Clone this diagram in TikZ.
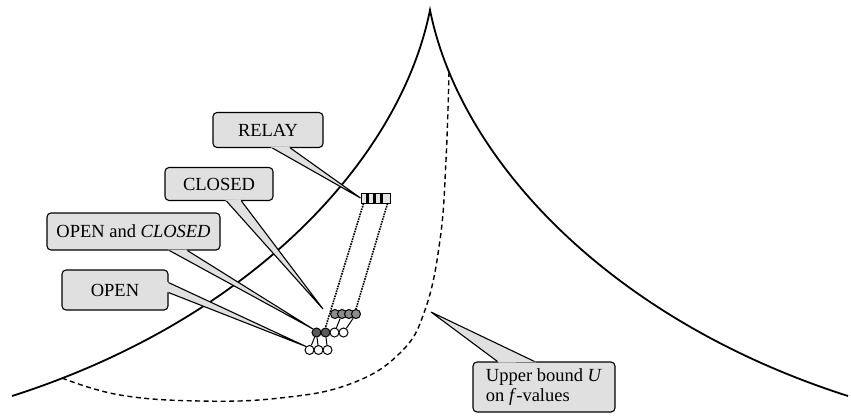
\documentclass[tikz,border=0pt]{standalone}
\usepackage{fontspec}
\setmainfont{Liberation Serif}
\usetikzlibrary{calc}

% tail of a callout: two base points on the box edge, then the tip
\newcommand{\calltail}[3]{%
  \fill[callfill] ($(#1)!-2pt!(#3)$) -- (#3) -- ($(#2)!-2pt!(#3)$) -- cycle;
  \draw[tailline] (#1) -- (#3) -- (#2);}

\begin{document}
\begin{tikzpicture}[
    x=1pt, y=-1pt, font=\fontsize{18.5}{20.5}\selectfont, line join=miter,
    callout/.style={rectangle, rounded corners=4pt, draw, fill=black!12,
      line width=1.1pt, inner sep=0pt, align=center},
    callfill/.style={fill=black!12},
    tailline/.style={line width=1.1pt},
    bound/.style={line width=1.8pt},
    ubound/.style={line width=1.4pt, dash pattern=on 5pt off 3.5pt},
    opencirc/.style={circle, draw, fill=white, minimum size=9pt, inner sep=0pt, line width=1pt},
    closedcirc/.style={opencirc, fill=black!45},
    bothcirc/.style={opencirc, fill=black!65},
    link/.style={line width=1pt},
    relayed/.style={line width=1.6pt, densely dotted}]
  \useasboundingbox (0,0) rectangle (851,416);
  % f-value surface and the bound U
  \draw[bound] (12,396) .. controls (250,320) and (400,160) .. (430,10)
    .. controls (460,160) and (610,320) .. (848,396);
  \draw[ubound] plot[smooth, tension=0.7] coordinates {(62,378) (120,395) (200,401)
    (280,398) (350,384) (400,353) (425,310) (440,240) (446,160) (449,72)};
  % search frontier
  \node[closedcirc] (t1) at (335,314) {};
  \node[closedcirc] (t2) at (342,314) {};
  \node[closedcirc] (t3) at (349,314) {};
  \node[closedcirc] (t4) at (356,314) {};
  \node[bothcirc] (m1) at (316.5,332.5) {};
  \node[bothcirc] (m2) at (325.5,332.5) {};
  \node[opencirc] (m3) at (334.5,332.5) {};
  \node[opencirc] (m4) at (343.5,332.5) {};
  \node[opencirc] (b1) at (309.5,350) {};
  \node[opencirc] (b2) at (318.5,350) {};
  \node[opencirc] (b3) at (327.5,350) {};
  \draw[link] (m1) -- (b1);
  \draw[link] (m1) -- (b2);
  \draw[link] (m2) -- (b3);
  \draw[link] (t2) -- (m3);
  \draw[link] (t4) -- (m4);
  % relay layer
  \node[draw, fill=black!10, line width=1pt, minimum width=29pt, minimum height=10pt,
    inner sep=0pt] (relaybox) at (375.5,198) {};
  \foreach \dx in {-8,-1,6}
    \fill ([xshift=\dx pt - 1.6pt, yshift=-0.5pt]relaybox.north)
      rectangle ([xshift=\dx pt + 1.6pt, yshift=0.5pt]relaybox.south);
  \draw[relayed] ([xshift=3pt]relaybox.south west) -- (m2.north);
  \draw[relayed] ([xshift=-3pt]relaybox.south east) -- (t4.north);
  % callouts
  \node[callout, minimum width=110pt, minimum height=35pt] (relay) at (268,130) {RELAY};
  \node[callout, minimum width=108pt, minimum height=33pt] (closed) at (219,184) {CLOSED};
  \node[callout, minimum width=173pt, minimum height=37pt] (both) at (133.5,231.5) {OPEN and \textit{CLOSED}};
  \node[callout, minimum width=106pt, minimum height=40pt] (open) at (115,290) {OPEN};
  \node[callout, minimum width=142pt, minimum height=50pt, align=left] (ubnd) at (544,387)
    {Upper bound \textit{U}\\on \textit{f}-values};
  \coordinate (closedtip) at (323,309);
  \coordinate (ubtip) at (431,312);
  \calltail{[xshift=60pt]relay.south west}{[xshift=78pt]relay.south west}{relaybox.west}
  \calltail{[xshift=62pt]closed.south west}{[xshift=77pt]closed.south west}{closedtip}
  \calltail{[xshift=123pt]both.south west}{[xshift=141pt]both.south west}{m1.north west}
  \calltail{[yshift=28pt]open.south east}{[yshift=18pt]open.south east}{b1.north west}
  \calltail{[xshift=25pt]ubnd.north west}{[xshift=62pt]ubnd.north west}{ubtip}
\end{tikzpicture}
\end{document}
